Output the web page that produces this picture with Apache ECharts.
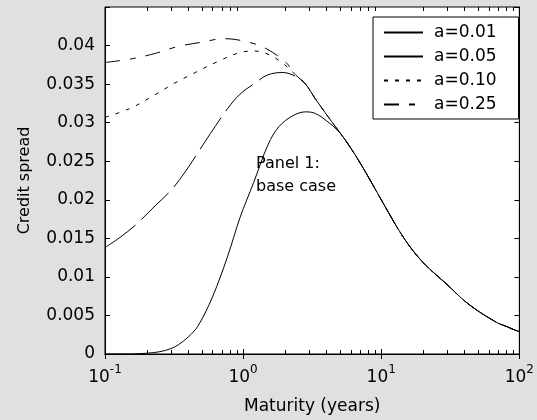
<!DOCTYPE html>
<html><head><meta charset="utf-8">
<script src="https://cdn.jsdelivr.net/npm/echarts@6/dist/echarts.min.js"></script>
<style>html,body{margin:0;padding:0;background:#e0e0e0}#c{width:537px;height:420px}</style>
</head><body><div id="c"></div>
<script>
const seriesNames = ['a=0.01', 'a=0.05', 'a=0.10', 'a=0.25'];
const xTickValues = [0.1, 1, 10, 100];
const yTickMax = 0.045;

const mat001 = [0.1, 0.15, 0.2, 0.25, 0.3, 0.34, 0.4, 0.47, 0.6, 0.77, 0.95, 1.19, 1.52, 1.82, 2.29, 2.83, 3.33, 4.11, 4.83];
const spr001 = [0, 0, 0.0001, 0.0003, 0.0007, 0.0012, 0.0022, 0.0036, 0.0074, 0.0126, 0.0177, 0.0222, 0.0272, 0.0295, 0.0309, 0.0314, 0.0312, 0.0301, 0.029];

const mat005 = [0.1, 0.128, 0.168, 0.233, 0.3, 0.38, 0.47, 0.58, 0.77, 0.95, 1.19, 1.51, 1.94, 2.4];
const spr005 = [0.0138, 0.0151, 0.0168, 0.0193, 0.0212, 0.0236, 0.0261, 0.0286, 0.0318, 0.0337, 0.035, 0.0362, 0.0365, 0.036];

const mat010 = [0.1, 0.15, 0.215, 0.31, 0.45, 0.65, 0.95, 1.21, 1.55, 1.94, 2.4];
const spr010 = [0.0307, 0.0318, 0.0333, 0.035, 0.0365, 0.0379, 0.0391, 0.0393, 0.0388, 0.0377, 0.0362];

const mat025 = [0.1, 0.158, 0.233, 0.34, 0.49, 0.73, 1.06, 1.47, 2.04, 2.4];
const spr025 = [0.0378, 0.0383, 0.039, 0.0399, 0.0404, 0.0409, 0.0405, 0.0396, 0.0378, 0.0362];

const midMat = [2.83, 3.33, 4.39];
const midSpr = [0.035, 0.0331, 0.0301];

const tailMat = [5.42, 6.7, 8.4, 10, 14.5, 20, 30, 40, 50, 60, 70, 80, 90, 100];
const tailSpr = [0.0279, 0.0254, 0.0224, 0.02, 0.0151, 0.0119, 0.009, 0.0069, 0.0056, 0.0047, 0.004, 0.0036, 0.0032, 0.0029];

function zip(xs, ys) { return xs.map((x, i) => [x, ys[i]]); }
const data001 = zip(mat001.concat(tailMat), spr001.concat(tailSpr));
const data005 = zip(mat005.concat(midMat, tailMat), spr005.concat(midSpr, tailSpr));
const data010 = zip(mat010.concat(midMat, tailMat), spr010.concat(midSpr, tailSpr));
const data025 = zip(mat025.concat(midMat, tailMat), spr025.concat(midSpr, tailSpr));

const FONT = 'DejaVu Sans';
const chart = echarts.init(document.getElementById('c'), null, {renderer: 'canvas'});

function mkSeries(name, data, dash) {
  return {
    name: name, type: 'line', data: data, symbol: 'none', smooth: 0.35,
    xAxisIndex: 0, yAxisIndex: 0, animation: false, color: '#000',
    itemStyle: {color: '#000'},
    lineStyle: {color: '#000', width: 1, type: dash}
  };
}

const expMap = {'0.1': '-1', '1': '0', '10': '1', '100': '2'};

const option = {
  backgroundColor: '#e0e0e0',
  animation: false,
  textStyle: {fontFamily: FONT},
  grid: {left: 105, top: 7, right: 8, bottom: 62, show: true, backgroundColor: '#fff', borderColor: '#000', borderWidth: 1},
  legend: {
    orient: 'vertical', left: 373, top: 17, padding: [7, 22, 6, 10],
    itemWidth: 39, itemHeight: 14, itemGap: 7,
    backgroundColor: '#fff', borderColor: '#000', borderWidth: 1, borderRadius: 0,
    itemStyle: {opacity: 0, borderWidth: 0},
    textStyle: {fontFamily: FONT, fontSize: 17, color: '#000', padding: [0, 0, 0, 6]},
    data: [
      {name: seriesNames[0]},
      {name: seriesNames[1], lineStyle: {type: 'solid'}},
      {name: seriesNames[2]},
      {name: seriesNames[3]}
    ]
  },
  xAxis: [{
    type: 'log', logBase: 10, min: 0.1, max: 100, position: 'bottom',
    name: 'Maturity (years)', nameLocation: 'middle', nameGap: 44,
    nameTextStyle: {fontFamily: FONT, fontSize: 17, color: '#000'},
    axisLine: {show: true, lineStyle: {color: '#000', width: 1}},
    axisTick: {show: true, inside: true, length: 5, lineStyle: {color: '#000'}},
    splitLine: {show: false},
    axisLabel: {
      margin: 10, color: '#000',
      formatter: function (v) { const e = expMap[String(+v.toPrecision(3))]; return e === undefined ? '' : '{b|10}{s|' + e + '}'; },
      rich: {
        b: {fontFamily: FONT, fontSize: 17, color: '#000', verticalAlign: 'bottom'},
        s: {fontFamily: FONT, fontSize: 12, color: '#000', verticalAlign: 'bottom', padding: [0, 0, 10, 0]}
      }
    }
  }, {
    type: 'log', logBase: 10, min: 0.1, max: 100, position: 'top',
    axisLine: {show: true, lineStyle: {color: '#000', width: 1}},
    axisTick: {show: true, inside: true, length: 5, lineStyle: {color: '#000'}},
    axisLabel: {show: false}, splitLine: {show: false}
  }],
  yAxis: [{
    type: 'value', min: 0, max: yTickMax, interval: 0.005, position: 'left',
    name: 'Credit spread', nameLocation: 'middle', nameGap: 72, nameRotate: 90,
    nameTextStyle: {fontFamily: FONT, fontSize: 16, color: '#000'},
    axisLine: {show: true, lineStyle: {color: '#000', width: 1}},
    axisTick: {show: true, inside: true, length: 5, lineStyle: {color: '#000'}},
    splitLine: {show: false},
    axisLabel: {
      margin: 10, fontFamily: FONT, fontSize: 17, color: '#000',
      formatter: function (v) { if (Math.abs(v - yTickMax) < 1e-9) return ''; return v === 0 ? '0' : String(+v.toFixed(3)); }
    }
  }, {
    type: 'value', min: 0, max: yTickMax, interval: 0.005, position: 'right',
    axisLine: {show: true, lineStyle: {color: '#000', width: 1}},
    axisTick: {show: true, inside: true, length: 5, lineStyle: {color: '#000'}},
    axisLabel: {show: false}, splitLine: {show: false}
  }],
  series: [
    mkSeries(seriesNames[0], data001, 'solid'),
    mkSeries(seriesNames[1], data005, [38, 8]),
    mkSeries(seriesNames[2], data010, [4, 7]),
    mkSeries(seriesNames[3], data025, [15, 10, 6, 10])
  ]
};
chart.setOption(option);

// minor log ticks (2..9 per decade), placed through the axis scale
const minorVals = [];
[0.1, 1, 10].forEach(d => { for (let k = 2; k <= 9; k++) minorVals.push(d * k); });
const yBottom = chart.convertToPixel({yAxisIndex: 0}, 0);
const yTop = chart.convertToPixel({yAxisIndex: 0}, yTickMax);
const graphics = [];
minorVals.forEach(v => {
  const x = Math.round(chart.convertToPixel({xAxisIndex: 0}, v)) + 0.5;
  graphics.push({type: 'line', silent: true, z: 10, shape: {x1: x, y1: yBottom, x2: x, y2: yBottom - 4}, style: {stroke: '#000', lineWidth: 1}});
  graphics.push({type: 'line', silent: true, z: 10, shape: {x1: x, y1: yTop, x2: x, y2: yTop + 4}, style: {stroke: '#000', lineWidth: 1}});
});
graphics.push({
  type: 'text', left: 256, top: 152, z: 20, silent: true,
  style: {text: 'Panel 1:\nbase case', fontFamily: FONT, fontSize: 16, lineHeight: 23, fill: '#000'}
});
chart.setOption({graphic: graphics});
</script>
</body></html>
